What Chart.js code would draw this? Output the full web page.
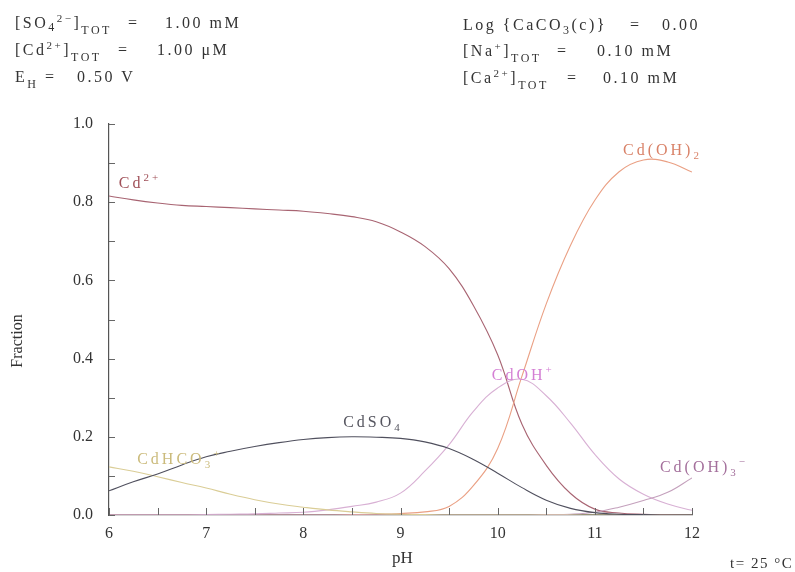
<!DOCTYPE html>
<html>
<head>
<meta charset="utf-8">
<script src="https://cdn.jsdelivr.net/npm/chart.js@4.4.1/dist/chart.umd.min.js"></script>
<style>
  html, body { margin: 0; padding: 0; background: #fff; }
  #wrap { position: relative; width: 795px; height: 572px; }
  #chart { position: absolute; left: 0; top: 0; }
  .t { position: absolute; font-family: 'Liberation Serif', serif; font-size: 16px; line-height: 16px;
       letter-spacing: 2.5px; color: #333; white-space: pre; }
  .sub { font-size: 12px; position: relative; top: 6px; }
  .sup { font-size: 11px; position: relative; top: -6px; }
</style>
</head>
<body>
<div id="wrap">
  <canvas id="chart" width="795" height="572"></canvas>
  <!-- header, left column -->
  <div class="t" style="left:15px;top:15px">[SO<span class="sub" style="top:3px">4</span><span class="sup">2−</span>]<span class="sub">TOT</span></div>
  <div class="t" style="left:128px;top:15px">=</div>
  <div class="t" style="left:165px;top:15px">1.00 mM</div>
  <div class="t" style="left:15px;top:42px">[Cd<span class="sup">2+</span>]<span class="sub">TOT</span></div>
  <div class="t" style="left:118px;top:42px">=</div>
  <div class="t" style="left:157px;top:42px">1.00 μM</div>
  <div class="t" style="left:15px;top:69px">E<span class="sub">H</span></div>
  <div class="t" style="left:45px;top:69px">=</div>
  <div class="t" style="left:77px;top:69px">0.50 V</div>
  <!-- header, right column -->
  <div class="t" style="left:463px;top:17px">Log {CaCO<span class="sub" style="top:4px">3</span>(c)}</div>
  <div class="t" style="left:630px;top:17px">=</div>
  <div class="t" style="left:662px;top:17px">0.00</div>
  <div class="t" style="left:463px;top:43px">[Na<span class="sup">+</span>]<span class="sub">TOT</span></div>
  <div class="t" style="left:557px;top:43px">=</div>
  <div class="t" style="left:597px;top:43px">0.10 mM</div>
  <div class="t" style="left:463px;top:70px">[Ca<span class="sup">2+</span>]<span class="sub">TOT</span></div>
  <div class="t" style="left:567px;top:70px">=</div>
  <div class="t" style="left:603px;top:70px">0.10 mM</div>
</div>
<script>
// 数据
const pH = [6, 6.25, 6.5, 6.75, 7, 7.25, 7.5, 7.75, 8, 8.25, 8.5, 8.75, 9,
            9.25, 9.5, 9.75, 10, 10.25, 10.5, 10.75, 11, 11.25, 11.5, 11.75, 12];

const cd2 = [0.816, 0.806, 0.798, 0.792, 0.789, 0.786, 0.783, 0.780, 0.777, 0.771, 0.763, 0.750, 0.724,
             0.687, 0.630, 0.536, 0.410, 0.232, 0.127, 0.055, 0.015, 0.005, 0.002, 0.001, 0.000];
const cdOH2 = [0, 0, 0, 0, 0, 0, 0, 0, 0, 0, 0.001, 0.002, 0.004,
               0.008, 0.022, 0.075, 0.170, 0.355, 0.540, 0.690, 0.805, 0.878, 0.908, 0.903, 0.877];
const cdOHp = [0, 0, 0, 0, 0.001, 0.002, 0.003, 0.005, 0.007, 0.013, 0.022, 0.033, 0.056,
               0.112, 0.180, 0.265, 0.325, 0.347, 0.305, 0.235, 0.155, 0.092, 0.053, 0.028, 0.012];
const cdOH3 = [0, 0, 0, 0, 0, 0, 0, 0, 0, 0, 0, 0, 0,
               0, 0, 0, 0, 0, 0.001, 0.002, 0.007, 0.020, 0.037, 0.058, 0.095];
const cdSO4 = [0.062, 0.085, 0.105, 0.128, 0.149, 0.163, 0.175, 0.185, 0.193, 0.198, 0.200, 0.199, 0.196,
               0.187, 0.170, 0.142, 0.107, 0.070, 0.038, 0.017, 0.006, 0.002, 0.001, 0, 0];
const cdHCO3 = [0.123, 0.112, 0.098, 0.083, 0.069, 0.053, 0.039, 0.028, 0.020, 0.013, 0.008, 0.004, 0.002,
                0.001, 0, 0, 0, 0, 0, 0, 0, 0, 0, 0, 0];

// 曲线标注: 文字片段 + 所在 (pH, 分数)
const curveLabels = [
    { parts: [['Cd', ''], ['2+', 'sup']], x: 6.10, y: 0.836, color: '#a05058' },
    { parts: [['Cd(OH)', ''], ['2', 'sub']], x: 11.29, y: 0.92, color: '#d98268' },
    { parts: [['CdOH', ''], ['+', 'sup']], x: 9.94, y: 0.345, color: '#d47fd4' },
    { parts: [['Cd(OH)', ''], ['3', 'sub'], ['−', 'sup']], x: 11.67, y: 0.11, color: '#a4709c' },
    { parts: [['CdSO', ''], ['4', 'sub']], x: 8.41, y: 0.225, color: '#55555f' },
    { parts: [['CdHCO', ''], ['3', 'sub'], ['+', 'sup']], x: 6.29, y: 0.13, color: '#cbbb7c' }
];

const FONT = "'Liberation Serif', serif";

function toPoints(values) {
    return pH.map((x, i) => ({ x: x, y: values[i] }));
}

function line(label, values, color) {
    return {
        label: label,
        data: toPoints(values),
        borderColor: color,
        borderWidth: 1.1,
        pointRadius: 0,
        fill: false,
        tension: 0.4
    };
}

function drawRich(ctx, x, y, parts) {
    let cx = x;
    parts.forEach(([text, kind]) => {
        let dy = 0;
        if (kind === 'sup') { ctx.font = '11px ' + FONT; dy = -7; }
        else if (kind === 'sub') { ctx.font = '11px ' + FONT; dy = 4; }
        else { ctx.font = '16px ' + FONT; }
        ctx.fillText(text, cx, y + dy);
        cx += ctx.measureText(text).width;
    });
}

// 向内的刻度线、标注、坐标轴标题
const decorPlugin = {
    id: 'decor',
    afterDraw(chart) {
        const ctx = chart.ctx;
        const xs = chart.scales.x;
        const ys = chart.scales.y;
        const area = chart.chartArea;
        ctx.save();
        ctx.strokeStyle = '#666';
        ctx.lineWidth = 1;
        ctx.beginPath();
        xs.ticks.forEach(t => {
            const px = Math.round(xs.getPixelForValue(t.value)) + 0.5;
            ctx.moveTo(px, area.bottom);
            ctx.lineTo(px, area.bottom - 7);
        });
        ys.ticks.forEach(t => {
            const py = Math.round(ys.getPixelForValue(t.value)) + 0.5;
            ctx.moveTo(area.left, py);
            ctx.lineTo(area.left + 6, py);
        });
        ctx.stroke();

        ctx.textBaseline = 'alphabetic';
        ctx.textAlign = 'left';
        ctx.letterSpacing = '3px';
        curveLabels.forEach(l => {
            ctx.fillStyle = l.color;
            drawRich(ctx, xs.getPixelForValue(l.x), ys.getPixelForValue(l.y), l.parts);
        });

        ctx.letterSpacing = '0px';
        ctx.fillStyle = '#333';
        ctx.font = '17px ' + FONT;
        ctx.textAlign = 'center';
        ctx.fillText('pH', (area.left + area.right) / 2 + 2, 563);

        ctx.save();
        ctx.translate(22, 341);
        ctx.rotate(-Math.PI / 2);
        ctx.font = '16px ' + FONT;
        ctx.fillText('Fraction', 0, 0);
        ctx.restore();

        ctx.textAlign = 'left';
        ctx.font = '15px ' + FONT;
        ctx.letterSpacing = '1.5px';
        ctx.fillText('t= 25 °C', 730, 568);
        ctx.restore();
    }
};

new Chart(document.getElementById('chart'), {
    type: 'line',
    data: {
        datasets: [
            line('CdSO4', cdSO4, '#50505e'),
            line('CdHCO3+', cdHCO3, '#dacd96'),
            line('Cd(OH)3-', cdOH3, '#c4a0bc'),
            line('CdOH+', cdOHp, '#d8b0d4'),
            line('Cd(OH)2', cdOH2, '#eaa084'),
            line('Cd2+', cd2, '#a86472')
        ]
    },
    options: {
        responsive: false,
        animation: false,
        layout: { padding: { left: 0, top: 124, right: 103, bottom: 0 } },
        plugins: {
            legend: { display: false },
            tooltip: { enabled: false }
        },
        scales: {
            x: {
                type: 'linear',
                min: 6,
                max: 12,
                afterFit: s => { s.height = 57; },
                grid: { display: true, drawOnChartArea: false, drawTicks: false },
                border: { display: true, color: '#555', width: 1.2 },
                ticks: {
                    stepSize: 0.5,
                    autoSkip: false,
                    maxRotation: 0,
                    padding: 9,
                    color: '#333',
                    font: { family: FONT, size: 16 },
                    callback: v => Number.isInteger(v) ? String(v) : ''
                }
            },
            y: {
                min: 0,
                max: 1,
                afterFit: s => { s.width = 109; },
                grid: { display: true, drawOnChartArea: false, drawTicks: false },
                border: { display: true, color: '#555', width: 1.2 },
                ticks: {
                    stepSize: 0.1,
                    autoSkip: false,
                    padding: 16,
                    color: '#333',
                    font: { family: FONT, size: 16 },
                    callback: v => Math.round(v * 10) % 2 === 0 ? v.toFixed(1) : ''
                }
            }
        }
    },
    plugins: [decorPlugin]
});
</script>
</body>
</html>
